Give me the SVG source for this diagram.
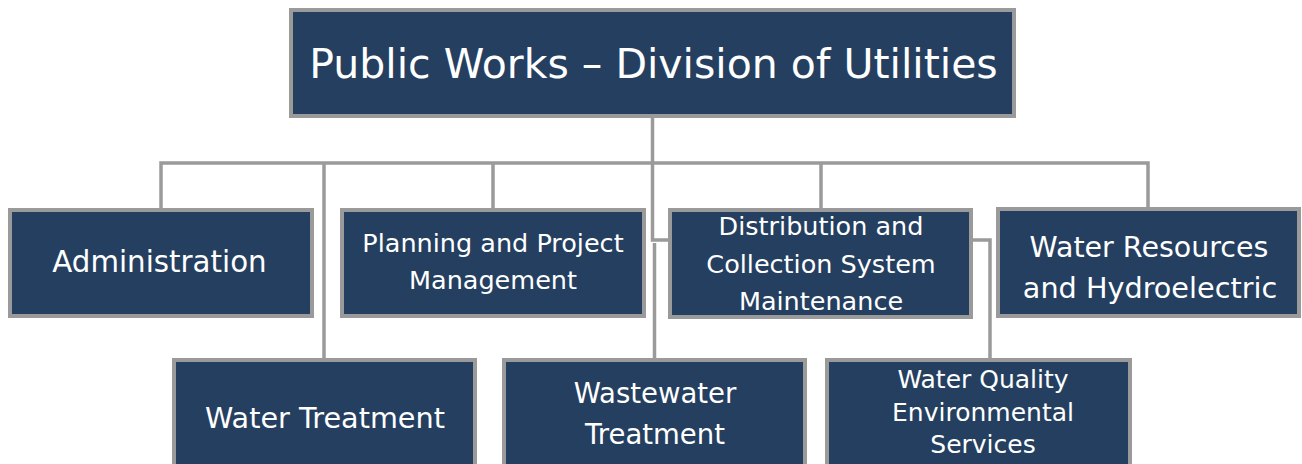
<svg xmlns="http://www.w3.org/2000/svg" width="1302" height="464" viewBox="0 0 1302 464">
<style>
.box{fill:#253f60;stroke:#9a9a9a;stroke-width:4}
.lbl{fill:#ffffff;font-family:"DejaVu Sans",sans-serif;text-anchor:middle}
.conn{fill:none;stroke:#9a9a9a;stroke-width:3.5}
</style>
<rect width="1302" height="464" fill="#ffffff"/>
<g id="connectors">
<path class="conn" d="M161 208 V163 H1148 V207"/>
<path class="conn" d="M493 163 V208"/>
<path class="conn" d="M821 163 V208"/>
<path class="conn" d="M324 163 V358"/>
<path class="conn" d="M652.5 118 V240 H668"/>
<path class="conn" d="M654.5 243 V358"/>
<path class="conn" d="M973 240 H990 V358"/>
</g>
<g id="node-top">
<rect class="box" x="291" y="10" width="723" height="106"/>
<text class="lbl" x="653.5" y="78" font-size="41">Public Works – Division of Utilities</text>
</g>
<g id="node-admin">
<rect class="box" x="10" y="210" width="302" height="106"/>
<text class="lbl" x="159.5" y="272" font-size="29.3">Administration</text>
</g>
<g id="node-planning">
<rect class="box" x="342" y="210" width="302" height="106"/>
<text class="lbl" x="493" y="252" font-size="25.5">Planning and Project</text>
<text class="lbl" x="493" y="289" font-size="25.5">Management</text>
</g>
<g id="node-distribution">
<rect class="box" x="670" y="210" width="301" height="107"/>
<text class="lbl" x="821" y="235" font-size="25.5">Distribution and</text>
<text class="lbl" x="821" y="273" font-size="25.5">Collection System</text>
<text class="lbl" x="821" y="310" font-size="25.5">Maintenance</text>
</g>
<g id="node-resources">
<rect class="box" x="998" y="209" width="301" height="107"/>
<text class="lbl" x="1149" y="257" font-size="28.5">Water Resources</text>
<text class="lbl" x="1150" y="298" font-size="28.7">and Hydroelectric</text>
</g>
<g id="node-water-treatment">
<rect class="box" x="174" y="360" width="301" height="120"/>
<text class="lbl" x="325" y="428" font-size="28.7">Water Treatment</text>
</g>
<g id="node-wastewater">
<rect class="box" x="504" y="360" width="301" height="120"/>
<text class="lbl" x="655" y="403" font-size="27.5">Wastewater</text>
<text class="lbl" x="655" y="444" font-size="27.5">Treatment</text>
</g>
<g id="node-water-quality">
<rect class="box" x="827" y="360" width="303" height="120"/>
<text class="lbl" x="983" y="388" font-size="25">Water Quality</text>
<text class="lbl" x="983" y="421" font-size="25">Environmental</text>
<text class="lbl" x="983" y="453" font-size="25">Services</text>
</g>
</svg>
